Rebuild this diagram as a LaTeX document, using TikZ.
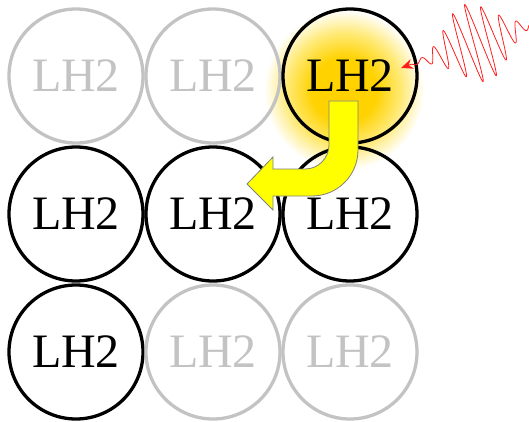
\documentclass[tikz,border=0pt]{standalone}
\usepackage{fontspec}
\setmainfont{Liberation Serif}
\usetikzlibrary{arrows.meta}
\definecolor{glowgold}{RGB}{255,210,0}
\definecolor{glowmid}{RGB}{255,234,120}
\definecolor{ringgrey}{RGB}{195,195,195}
\definecolor{arrowyellow}{RGB}{255,255,0}
\definecolor{arrowedge}{RGB}{128,128,128}
\definecolor{waveRed}{RGB}{255,30,30}
\pgfdeclareradialshading{lhglow}{\pgfpoint{0bp}{0bp}}{color(0bp)=(glowgold); color(10bp)=(glowgold); color(18bp)=(glowmid); color(25bp)=(white); color(50bp)=(white)}
\tikzset{
  lhring/.style={circle, minimum size=134pt, inner sep=0pt, line width=3.3pt,
                 font=\fontsize{48}{52}\selectfont},
  lhon/.style={lhring, draw=black, text=black},
  lhoff/.style={lhring, draw=ringgrey, text=ringgrey},
  bentarrow/.style={fill=arrowyellow, draw=arrowedge, line width=0.8pt, line join=miter},
  photon/.style={draw=waveRed, line width=0.8pt, -{Stealth[length=12pt,width=10pt]}}
}
\begin{document}
\begin{tikzpicture}[x=1pt,y=-1pt]
\useasboundingbox (0,0) rectangle (529,422);
% glow behind the excited cell
\shade[shading=lhglow] (344,90) circle[radius=80pt];
% grid of cells
\node[lhoff] (a1) at (76,76) {LH2};
\node[lhoff] (a2) at (213,76) {LH2};
\node[lhon]  (a3) at (350,76) {LH2};
\node[lhon]  (b1) at (76,214) {LH2};
\node[lhon]  (b2) at (213,214) {LH2};
\node[lhon]  (b3) at (350,214) {LH2};
\node[lhon]  (c1) at (76,352) {LH2};
\node[lhoff] (c2) at (213,352) {LH2};
\node[lhoff] (c3) at (350,352) {LH2};
% bent block arrow (energy transfer)
\filldraw[bentarrow] (329,101) -- (358,101) -- (358,150)
  .. controls (358,175.4) and (337.4,196) .. (312,196)
  -- (273,196) -- (273,210) -- (247,184) -- (273,157) -- (273,169) -- (305,169)
  .. controls (318.25,169) and (329,158.25) .. (329,145) -- cycle;
% incoming photon (wave packet)
\coordinate (ws) at (529,25);
\coordinate (wt) at (401,68);
\draw[photon] plot[domain=0:124, samples=500, variable=\u]
  ({529 - 0.948*\u + 12.76*exp(-(\u-56)*(\u-56)/1250)*sin(24.83*\u)},
   {25 + 0.319*\u + 37.92*exp(-(\u-56)*(\u-56)/1250)*sin(24.83*\u)})
  -- (wt);
\end{tikzpicture}
\end{document}
